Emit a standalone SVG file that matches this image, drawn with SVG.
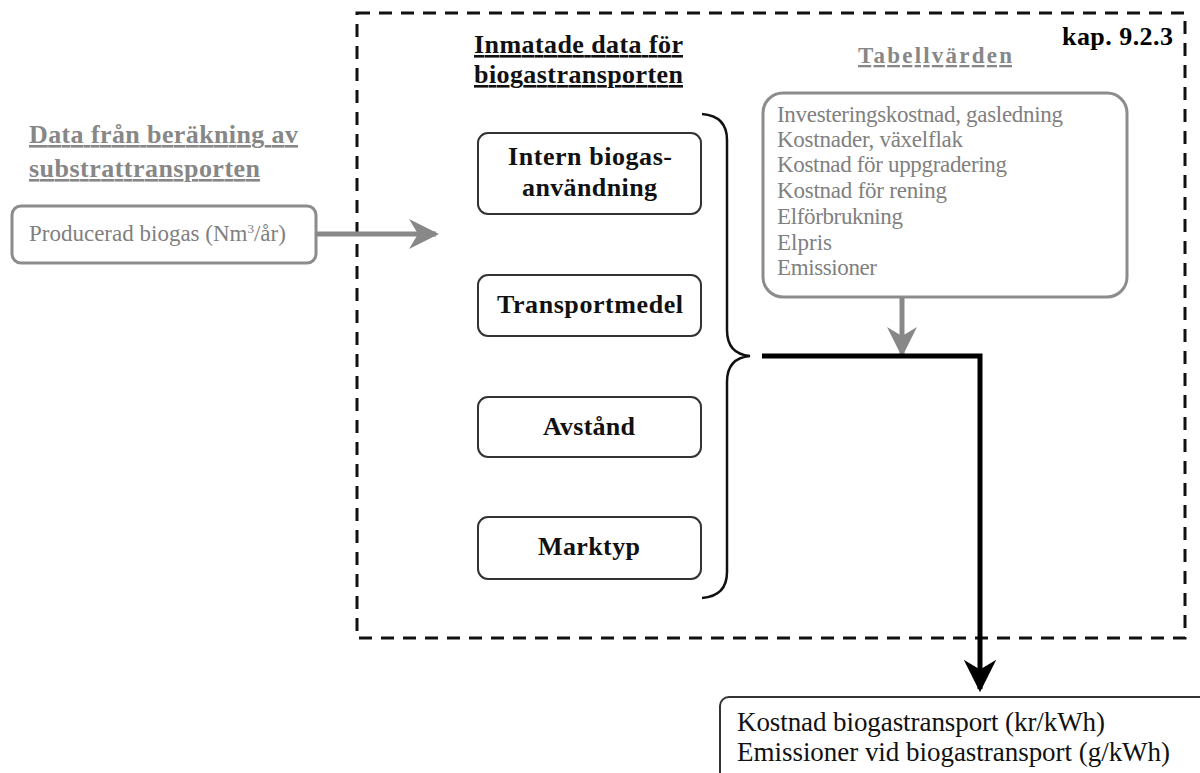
<svg xmlns="http://www.w3.org/2000/svg" width="1200" height="773" viewBox="0 0 1200 773">
  <style>
    .serif { font-family: "Liberation Serif", "Times New Roman", serif; }
    .head { font-weight: bold; font-size: 26px; text-decoration: underline; }
    .grey { fill: #878787; }
    .box { fill: #fff; stroke: #333; stroke-width: 2; }
    .gbox { fill: #fff; stroke: #8c8c8c; stroke-width: 3; }
    .btxt { font-weight: bold; font-size: 26px; fill: #111; }
    .list { font-size: 23px; fill: #808080; }
    .out { font-size: 27px; fill: #111; }
  </style>
  <defs>
    <marker id="arrGrey" viewBox="0 0 10 10" refX="9" refY="5" markerWidth="6" markerHeight="6" markerUnits="strokeWidth" orient="auto">
      <path d="M0,0 L10,5 L0,10 L3,5 Z" fill="#888"/>
    </marker>
    <marker id="arrBlack" viewBox="0 0 10 10" refX="9" refY="5" markerWidth="6.5" markerHeight="6.5" markerUnits="strokeWidth" orient="auto">
      <path d="M0,0 L10,5 L0,10 L3,5 Z" fill="#000"/>
    </marker>
  </defs>
  <rect width="1200" height="773" fill="#fff"/>

  <!-- dashed frame -->
  <g id="frame">
    <rect x="357" y="13" width="828" height="625" fill="none" stroke="#111" stroke-width="3" stroke-dasharray="13 9"/>
    <text class="serif" x="1062" y="45" font-size="26" font-weight="bold" fill="#000" textLength="111">kap. 9.2.3</text>
  </g>

  <!-- left input -->
  <g id="source">
    <text class="serif head grey" x="29" y="143" textLength="269">Data från beräkning av</text>
    <text class="serif head grey" x="29" y="177" textLength="231">substrattransporten</text>
    <rect class="gbox" x="12" y="206" width="304" height="57" rx="9"/>
    <text class="serif list" x="29" y="241" font-size="21">Producerad biogas (Nm<tspan font-size="13" dy="-8">3</tspan><tspan dy="8">/år)</tspan></text>
  </g>

  <!-- input data column -->
  <g id="inputs">
    <text class="serif head" x="474" y="53" fill="#111" textLength="209">Inmatade data för</text>
    <text class="serif head" x="474" y="83" fill="#111" textLength="209">biogastransporten</text>
  </g>
  <g id="intern">
    <rect class="box" x="478" y="133" width="223" height="81" rx="10"/>
    <text class="serif btxt" x="508" y="165" textLength="164">Intern biogas-</text>
    <text class="serif btxt" x="522" y="196" textLength="135">användning</text>
  </g>
  <g id="transportmedel">
    <rect class="box" x="478" y="275" width="223" height="61" rx="10"/>
    <text class="serif btxt" x="497" y="313" textLength="186">Transportmedel</text>
  </g>
  <g id="avstand">
    <rect class="box" x="478" y="397" width="223" height="60" rx="10"/>
    <text class="serif btxt" x="543" y="435" textLength="92">Avstånd</text>
  </g>
  <g id="marktyp">
    <rect class="box" x="478" y="517" width="223" height="62" rx="10"/>
    <text class="serif btxt" x="538" y="555" textLength="102">Marktyp</text>
  </g>

  <!-- table values -->
  <g id="tabell">
    <text class="serif grey" x="858" y="63" font-size="23" font-weight="bold" text-decoration="underline" textLength="154">Tabellvärden</text>
    <rect class="gbox" x="763" y="93" width="364" height="204" rx="20"/>
    <text class="serif list" x="777" y="122" textLength="286">Investeringskostnad, gasledning</text>
    <text class="serif list" x="777" y="147" textLength="186">Kostnader, växelflak</text>
    <text class="serif list" x="777" y="172" textLength="230">Kostnad för uppgradering</text>
    <text class="serif list" x="777" y="198" textLength="170">Kostnad för rening</text>
    <text class="serif list" x="777" y="224" textLength="126">Elförbrukning</text>
    <text class="serif list" x="777" y="250" textLength="55">Elpris</text>
    <text class="serif list" x="777" y="275" textLength="100">Emissioner</text>
  </g>

  <!-- result -->
  <g id="resultat">
    <rect class="box" x="720" y="697" width="495" height="90" rx="9"/>
    <text class="serif out" x="737" y="731" textLength="368">Kostnad biogastransport (kr/kWh)</text>
    <text class="serif out" x="737" y="761" textLength="433">Emissioner vid biogastransport (g/kWh)</text>
  </g>

  <!-- connectors -->
  <g id="connectors" fill="none">
    <path d="M702,114 Q727,116 727,140 L727,330 Q727,354 750,356 Q727,358 727,382 L727,572 Q727,596 702,598" stroke="#111" stroke-width="2.5"/>
    <line x1="316" y1="234" x2="436" y2="234" stroke="#888" stroke-width="5" marker-end="url(#arrGrey)"/>
    <line x1="902" y1="297" x2="902" y2="354" stroke="#888" stroke-width="5" marker-end="url(#arrGrey)"/>
    <path d="M762,356 L980,356 L980,689" stroke="#000" stroke-width="5" marker-end="url(#arrBlack)"/>
  </g>
</svg>
